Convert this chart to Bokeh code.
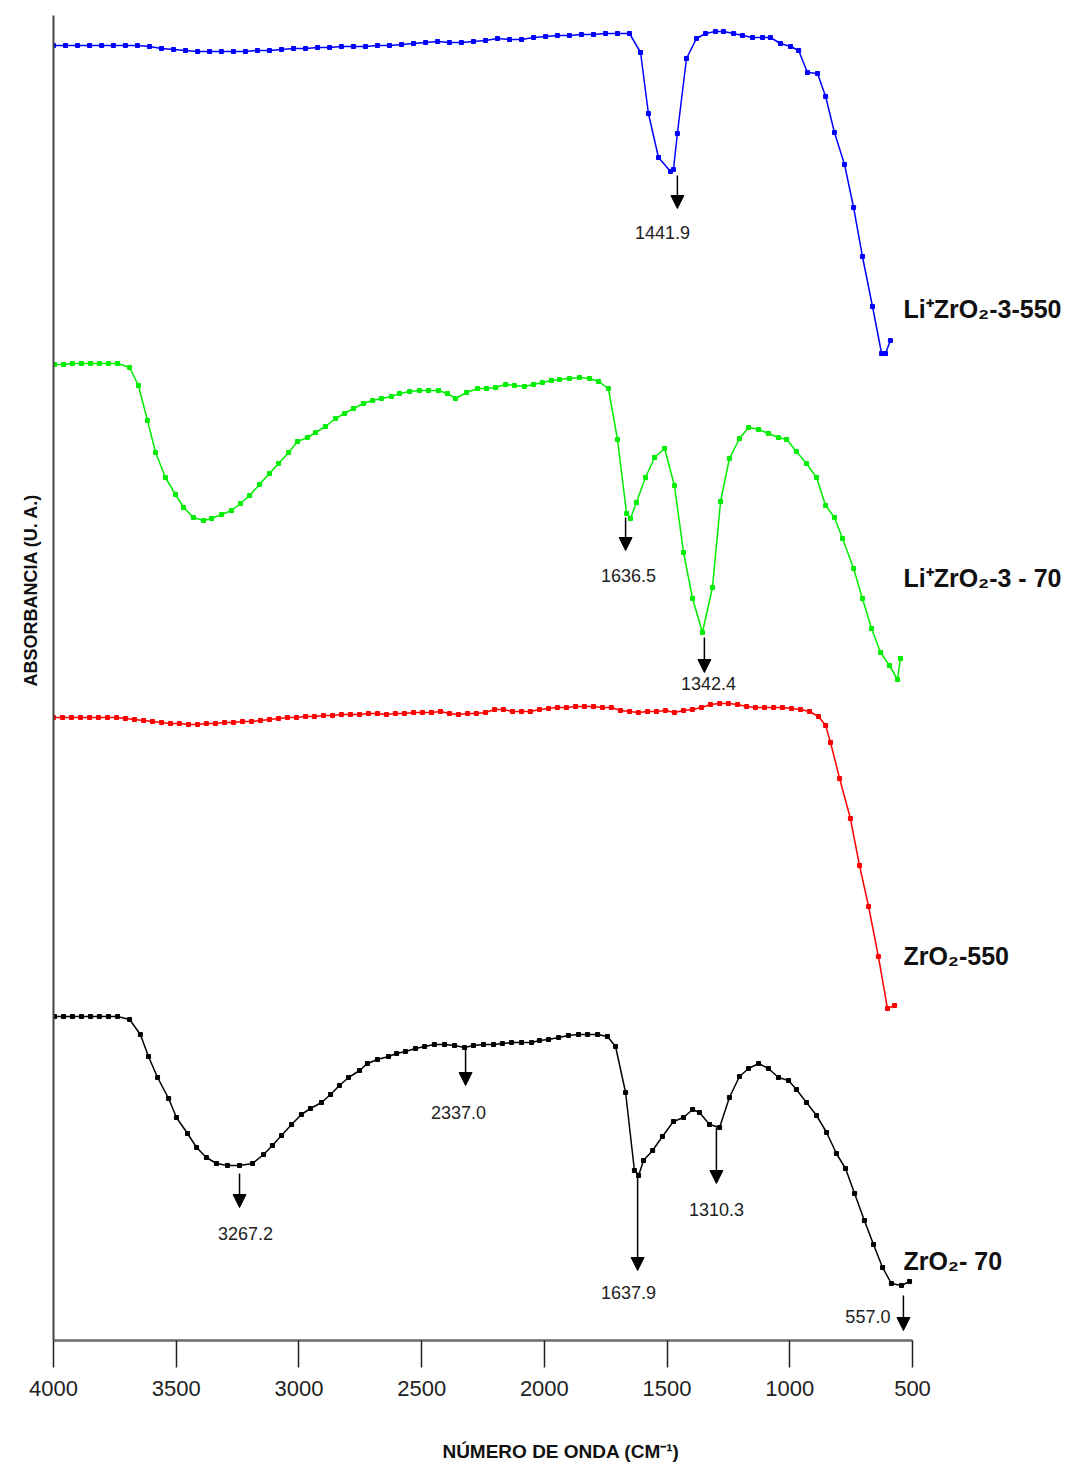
import math
from bokeh.plotting import figure
from bokeh.models import Range1d, FixedTicker, Arrow, NormalHead, Label, Title
from bokeh.core.properties import value
from bokeh.embed import file_html
from bokeh.resources import INLINE

# ---------------- data (wavenumber cm-1, absorbance a.u.) ----------------
blue_wn = [4000, 3951, 3902, 3853, 3804, 3756, 3707, 3658, 3609, 3560,
           3511, 3462, 3413, 3364, 3316, 3267, 3218, 3169, 3120, 3071,
           3022, 2973, 2924, 2875, 2827, 2778, 2729, 2680, 2631, 2582,
           2533, 2484, 2435, 2387, 2338, 2289, 2240, 2191, 2142, 2093,
           2044, 1995, 1947, 1898, 1849, 1800, 1751, 1702, 1653,
           1608, 1576, 1535, 1486, 1474, 1458, 1421, 1380, 1343, 1303,
           1270, 1229, 1193, 1152, 1111, 1079, 1038, 997, 964, 928,
           887, 854, 818, 777, 740, 704, 663, 626, 610, 590]
blue_abs = [1.295, 1.295, 1.295, 1.295, 1.295, 1.295, 1.295, 1.295, 1.294, 1.292,
            1.291, 1.290, 1.289, 1.289, 1.289, 1.289, 1.289, 1.290, 1.290, 1.291,
            1.292, 1.292, 1.293, 1.293, 1.294, 1.294, 1.294, 1.295, 1.295, 1.296,
            1.297, 1.298, 1.299, 1.298, 1.298, 1.299, 1.300, 1.302, 1.301, 1.301,
            1.303, 1.304, 1.305, 1.305, 1.306, 1.306, 1.307, 1.307, 1.307,
            1.288, 1.227, 1.183, 1.169, 1.171, 1.207, 1.282, 1.302, 1.307, 1.309,
            1.309, 1.307, 1.305, 1.303, 1.303, 1.303, 1.297, 1.294, 1.290, 1.268,
            1.267, 1.244, 1.208, 1.176, 1.133, 1.084, 1.034, 0.987, 0.987, 1.000]

green_wn = [3996, 3959, 3923, 3886, 3849, 3813, 3776, 3739,
            3690, 3654, 3617, 3584, 3544, 3503, 3470, 3430, 3389, 3356,
            3315, 3275, 3238, 3201, 3161, 3120, 3083, 3042, 3006, 2965,
            2932, 2892, 2851, 2814, 2778, 2737, 2700, 2664, 2623, 2590,
            2549, 2509, 2472, 2431, 2395, 2362, 2317, 2272, 2236, 2199,
            2158, 2122, 2081, 2044, 2008, 1971, 1938, 1898, 1857, 1816,
            1779, 1739, 1702, 1665, 1649, 1625, 1588, 1551, 1510, 1470,
            1433, 1396, 1356, 1315, 1282, 1246, 1205, 1168, 1127, 1087,
            1046, 1013, 973, 932, 891, 854, 818, 785, 740, 704,
            667, 630, 594, 561, 549]
green_abs = [0.976, 0.976, 0.977, 0.977, 0.977, 0.977, 0.977, 0.977,
             0.973, 0.955, 0.920, 0.888, 0.863, 0.846, 0.833, 0.823, 0.820, 0.822,
             0.826, 0.830, 0.837, 0.845, 0.856, 0.867, 0.877, 0.888, 0.899, 0.903,
             0.908, 0.914, 0.922, 0.927, 0.932, 0.937, 0.940, 0.942, 0.944, 0.947,
             0.949, 0.950, 0.950, 0.950, 0.947, 0.942, 0.948, 0.952, 0.952, 0.953,
             0.956, 0.955, 0.954, 0.956, 0.958, 0.960, 0.961, 0.962, 0.963, 0.962,
             0.959, 0.952, 0.901, 0.827, 0.822, 0.838, 0.863, 0.883, 0.892, 0.855,
             0.788, 0.742, 0.708, 0.753, 0.839, 0.882, 0.902, 0.913, 0.911, 0.907,
             0.903, 0.901, 0.889, 0.877, 0.863, 0.835, 0.823, 0.802, 0.772, 0.742,
             0.712, 0.688, 0.675, 0.661, 0.682]

red_wn = [4000, 3963, 3927, 3890, 3853, 3817, 3780, 3743, 3707, 3670,
          3633, 3597, 3560, 3523, 3487, 3450, 3413, 3377, 3340, 3303,
          3267, 3230, 3193, 3157, 3120, 3083, 3047, 3010, 2973, 2937,
          2900, 2863, 2827, 2790, 2753, 2717, 2680, 2643, 2607, 2570,
          2533, 2497, 2460, 2423, 2387, 2350, 2313, 2277, 2240, 2203,
          2167, 2130, 2093, 2057, 2020, 1983, 1947, 1910, 1873, 1837,
          1800, 1763, 1727, 1690, 1653, 1617, 1580, 1543, 1507, 1470,
          1433, 1397, 1360, 1323, 1286, 1250, 1213, 1176, 1140, 1103,
          1066, 1030, 993, 956, 920, 883,
          854, 834, 797, 753, 716, 679, 639, 602, 573]
red_abs = [0.623, 0.623, 0.623, 0.623, 0.623, 0.623, 0.623, 0.623, 0.622, 0.621,
           0.620, 0.619, 0.618, 0.617, 0.617, 0.616, 0.616, 0.617, 0.617, 0.618,
           0.618, 0.619, 0.619, 0.620, 0.621, 0.622, 0.623, 0.623, 0.624, 0.624,
           0.625, 0.625, 0.626, 0.626, 0.626, 0.627, 0.627, 0.626, 0.627, 0.627,
           0.628, 0.628, 0.628, 0.629, 0.627, 0.626, 0.627, 0.627, 0.628, 0.631,
           0.631, 0.629, 0.629, 0.629, 0.631, 0.632, 0.633, 0.633, 0.634, 0.634,
           0.634, 0.633, 0.633, 0.630, 0.629, 0.628, 0.629, 0.629, 0.630, 0.628,
           0.630, 0.631, 0.633, 0.636, 0.637, 0.637, 0.636, 0.634, 0.633, 0.633,
           0.633, 0.633, 0.632, 0.631, 0.629, 0.624,
           0.615, 0.598, 0.562, 0.522, 0.475, 0.434, 0.384, 0.332, 0.335]

black_wn = [3996, 3959, 3923, 3886, 3849, 3813, 3776, 3739,
            3690, 3646, 3613, 3576, 3531, 3499, 3454, 3417, 3377, 3336,
            3291, 3242, 3189, 3144, 3108, 3071, 3030, 2990, 2953, 2908,
            2871, 2835, 2798, 2753, 2721, 2680, 2635, 2602, 2566, 2525,
            2488, 2448, 2407, 2366, 2325, 2289, 2248, 2207, 2171, 2134,
            2093, 2052, 2020, 1983, 1942, 1902, 1861, 1824, 1783, 1743,
            1710, 1669, 1633, 1616, 1596, 1559, 1519, 1474, 1433, 1396,
            1368, 1327, 1286, 1246, 1205, 1168, 1127, 1087, 1046, 1005,
            973, 932, 891, 850, 810, 773, 736, 696, 659, 622,
            586, 545, 512]
black_abs = [0.324, 0.324, 0.324, 0.324, 0.324, 0.324, 0.324, 0.324,
             0.321, 0.306, 0.284, 0.263, 0.242, 0.223, 0.207, 0.193, 0.183, 0.177,
             0.175, 0.175, 0.177, 0.186, 0.195, 0.205, 0.216, 0.226, 0.232, 0.238,
             0.246, 0.255, 0.263, 0.270, 0.277, 0.281, 0.284, 0.287, 0.289, 0.292,
             0.294, 0.296, 0.296, 0.295, 0.293, 0.295, 0.296, 0.296, 0.297, 0.298,
             0.298, 0.298, 0.300, 0.301, 0.303, 0.305, 0.306, 0.306, 0.306, 0.304,
             0.294, 0.248, 0.170, 0.165, 0.180, 0.190, 0.204, 0.219, 0.223, 0.231,
             0.228, 0.216, 0.213, 0.243, 0.264, 0.272, 0.277, 0.272, 0.263, 0.260,
             0.251, 0.238, 0.225, 0.208, 0.187, 0.172, 0.147, 0.120, 0.096, 0.073,
             0.057, 0.055, 0.059]

series_names = ["Li\u207aZrO\u2082-3-550", "Li\u207aZrO\u2082-3 - 70", "ZrO\u2082-550", "ZrO\u2082- 70"]
series_colors = ["#0000ff", "#00ee00", "#ff0000", "#000000"]
series_label_y = [1.032, 0.763, 0.385, 0.080]

peak_labels = ["1441.9", "1636.5", "1342.4", "3267.2", "2337.0", "1637.9", "1310.3", "557.0"]
arrow_x = [1458, 1669, 1348, 3242, 2321, 1620, 1299, 537]
arrow_top = [1.165, 0.823, 0.703, 0.167, 0.292, 0.168, 0.213, 0.045]
arrow_tip = [1.132, 0.790, 0.668, 0.133, 0.255, 0.070, 0.157, 0.010]
peak_label_x = [1519, 1657, 1331, 3218, 2350, 1657, 1299, 590]
peak_label_y = [1.108, 0.765, 0.657, 0.107, 0.228, 0.048, 0.131, 0.024]
peak_label_align = ["center", "center", "center", "center", "center", "center", "center", "right"]

x_ticks = [4000, 3500, 3000, 2500, 2000, 1500, 1000, 500]

NARROW = "'Liberation Sans Narrow', 'Liberation Sans', Arial, sans-serif"

# ---------------- figure ----------------
p = figure(width=1068, height=1466, output_backend="svg", toolbar_location=None,
           x_range=Range1d(4000, -135.6), y_range=Range1d(0, 1.340),
           min_border_left=53, min_border_right=0, min_border_top=0, min_border_bottom=126)
p.outline_line_color = None
p.xgrid.visible = False
p.ygrid.visible = False
p.background_fill_color = "white"
p.border_fill_color = "white"

xa = p.xaxis[0]
xa.ticker = FixedTicker(ticks=x_ticks)
xa.bounds = (500, 4000)
xa.major_tick_out = 27
xa.major_tick_in = 0
xa.minor_tick_line_color = None
xa.major_tick_line_color = "#222222"
xa.major_tick_line_width = 1.5
xa.axis_line_color = "#6a6a6a"
xa.axis_line_width = 2.5
xa.major_label_standoff = 13
xa.major_label_text_font = NARROW
xa.major_label_text_font_size = "22px"
xa.major_label_text_color = "#222222"
xa.axis_label = "N\u00daMERO DE ONDA (CM\u207b\u00b9)"
xa.axis_label_text_font = NARROW
xa.axis_label_text_font_style = "bold"
xa.axis_label_text_font_size = "19px"
xa.axis_label_text_color = "#111111"
xa.axis_label_standoff = 42

ya = p.yaxis[0]
ya.ticker = FixedTicker(ticks=[])
ya.bounds = (0, 1.325)
ya.major_tick_line_color = None
ya.minor_tick_line_color = None
ya.axis_line_color = "#444444"
ya.axis_line_width = 2

ytitle = Title(text="ABSORBANCIA (U. A.)", align="right", offset=493,
               text_font=NARROW, text_font_style="bold", text_font_size="18px",
               text_color="#111111", standoff=26)
p.add_layout(ytitle, "left")

series = [(blue_wn, blue_abs), (green_wn, green_abs), (red_wn, red_abs), (black_wn, black_abs)]
for (xs, ys), col in zip(series, series_colors):
    p.line(xs, ys, line_color=col, line_width=1.5)
    p.scatter(xs, ys, marker="square", size=4, color=col)

# series names
p.text(x=[537, 537, 537, 537], y=series_label_y, text=series_names,
       text_font=value(NARROW), text_font_style="bold", text_font_size="25px",
       text_align="left", text_baseline="middle", text_color="#111111")

# peak arrows
for ax_, yt, yb in zip(arrow_x, arrow_top, arrow_tip):
    p.add_layout(Arrow(x_start=ax_, y_start=yt, x_end=ax_, y_end=yb,
                       line_color="black", line_width=1.5,
                       end=NormalHead(size=13, fill_color="black", line_color="black")))

for txt, lx, ly, al in zip(peak_labels, peak_label_x, peak_label_y, peak_label_align):
    p.add_layout(Label(x=lx, y=ly, text=txt, text_align=al, text_baseline="middle",
                       text_font=NARROW, text_font_size="18px", text_color="#222222"))

open("out.html", "w").write(file_html(p, INLINE))
